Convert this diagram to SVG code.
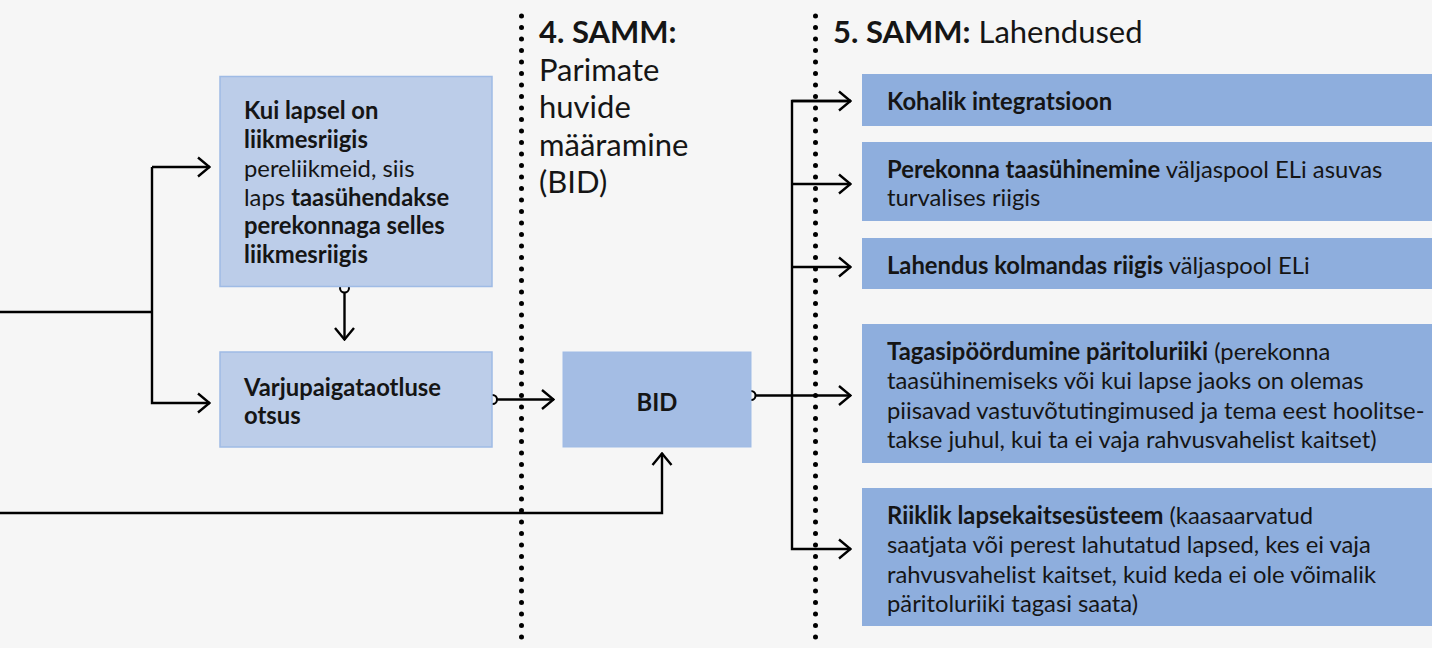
<svg xmlns="http://www.w3.org/2000/svg" width="1432" height="648" viewBox="0 0 1432 648">
<style>
text{font-family:Lato,"Noto Sans","Liberation Sans",sans-serif;fill:#151515;}
.t{font-size:23.8px;}
.b{font-weight:bold;}
.h{font-size:31px;}
.box1{fill:#bccde9;stroke:#9fbbe5;stroke-width:1.5;}
.bid{fill:#a4bde4;stroke:#9fbbe5;stroke-width:1;}
.sol{fill:#8eaedd;}
.c{fill:none;stroke:#000;stroke-width:2.4;}
.dot{fill:none;stroke:#000;stroke-width:5;stroke-linecap:round;stroke-dasharray:0 11.5;}
.o{fill:#f6f6f6;stroke:#000;stroke-width:2;}
</style>
<defs>
<marker id="ar" viewBox="0 0 14 22" refX="13" refY="11" markerWidth="14" markerHeight="22" markerUnits="userSpaceOnUse" orient="auto">
<path d="M1,1.5 L12.5,11 L1,20.5" fill="none" stroke="#000" stroke-width="2.4"/>
</marker>
</defs>
<rect width="1432" height="648" fill="#f6f6f6"/>
<g id="dividers">
<line class="dot" x1="521.5" y1="16" x2="521.5" y2="648"/>
<line class="dot" x1="815.5" y1="16" x2="815.5" y2="648"/>
</g>
<g id="step4-title">
<text class="h" x="539" y="43"><tspan class="b">4. SAMM:</tspan></text>
<text class="h" x="539" y="81">Parimate</text>
<text class="h" x="539" y="118">huvide</text>
<text class="h" x="539" y="156">määramine</text>
<text class="h" x="539" y="193">(BID)</text>
</g>
<g id="step5-title">
<text class="h" x="833" y="43"><tspan class="b">5. SAMM:</tspan> Lahendused</text>
</g>
<g id="connectors">
<polyline class="c" points="0,312 152,312"/>
<polyline class="c" points="152,167 152,403 210,403" marker-end="url(#ar)"/>
<line class="c" x1="152" y1="167" x2="210" y2="167" marker-end="url(#ar)"/>
<line class="c" x1="344.5" y1="292" x2="344.5" y2="340" marker-end="url(#ar)"/>
<line class="c" x1="497" y1="399.5" x2="554" y2="399.5" marker-end="url(#ar)"/>
<polyline class="c" points="0,513 662,513 662,453" marker-end="url(#ar)"/>
<line class="c" x1="756" y1="395.5" x2="851" y2="395.5" marker-end="url(#ar)"/>
<polyline class="c" points="851,101 792,101 792,549 851,549" marker-end="url(#ar)"/>
<line class="c" x1="792" y1="101" x2="851" y2="101" marker-end="url(#ar)"/>
<line class="c" x1="792" y1="184" x2="851" y2="184" marker-end="url(#ar)"/>
<line class="c" x1="792" y1="267" x2="851" y2="267" marker-end="url(#ar)"/>
</g>
<g id="node-kui">
<circle class="o" cx="344.5" cy="288" r="4.5"/>
<rect class="box1" x="220" y="76.5" width="272" height="210"/>
<text class="t" x="244" y="119"><tspan class="b">Kui lapsel on</tspan></text>
<text class="t" x="244" y="148"><tspan class="b">liikmesriigis</tspan></text>
<text class="t" x="244" y="177">pereliikmeid, siis</text>
<text class="t" x="244" y="205.5">laps <tspan class="b">taasühendakse</tspan></text>
<text class="t" x="244" y="234"><tspan class="b">perekonnaga selles</tspan></text>
<text class="t" x="244" y="263"><tspan class="b">liikmesriigis</tspan></text>
</g>
<g id="node-varjupaik">
<circle class="o" cx="492.5" cy="399.5" r="4.5"/>
<rect class="box1" x="220" y="352" width="272" height="95"/>
<text class="t b" x="244" y="396">Varjupaigataotluse</text>
<text class="t b" x="244" y="424">otsus</text>
</g>
<g id="node-bid">
<circle class="o" cx="751" cy="395.5" r="4.5"/>
<rect class="bid" x="563" y="352" width="188" height="95"/>
<text class="t b" x="657" y="411" text-anchor="middle">BID</text>
</g>
<g id="node-kohalik">
<rect class="sol" x="862" y="74" width="570" height="52"/>
<text class="t b" x="887" y="110">Kohalik integratsioon</text>
</g>
<g id="node-perekond">
<rect class="sol" x="862" y="142" width="570" height="79"/>
<text class="t" x="887" y="178"><tspan class="b">Perekonna taasühinemine</tspan> väljaspool ELi asuvas</text>
<text class="t" x="887" y="206">turvalises riigis</text>
</g>
<g id="node-kolmas">
<rect class="sol" x="862" y="238" width="570" height="51"/>
<text class="t" x="887" y="274"><tspan class="b">Lahendus kolmandas riigis</tspan> väljaspool ELi</text>
</g>
<g id="node-tagasi">
<rect class="sol" x="862" y="324" width="570" height="139"/>
<text class="t" x="887" y="360"><tspan class="b">Tagasipöördumine päritoluriiki</tspan> (perekonna</text>
<text class="t" x="887" y="389">taasühinemiseks või kui lapse jaoks on olemas</text>
<text class="t" x="887" y="419">piisavad vastuvõtutingimused ja tema eest hoolitse-</text>
<text class="t" x="887" y="448">takse juhul, kui ta ei vaja rahvusvahelist kaitset)</text>
</g>
<g id="node-riiklik">
<rect class="sol" x="862" y="488" width="570" height="138"/>
<text class="t" x="887" y="524"><tspan class="b">Riiklik lapsekaitsesüsteem</tspan> (kaasaarvatud</text>
<text class="t" x="887" y="553">saatjata või perest lahutatud lapsed, kes ei vaja</text>
<text class="t" x="887" y="583">rahvusvahelist kaitset, kuid keda ei ole võimalik</text>
<text class="t" x="887" y="612">päritoluriiki tagasi saata)</text>
</g>
</svg>
